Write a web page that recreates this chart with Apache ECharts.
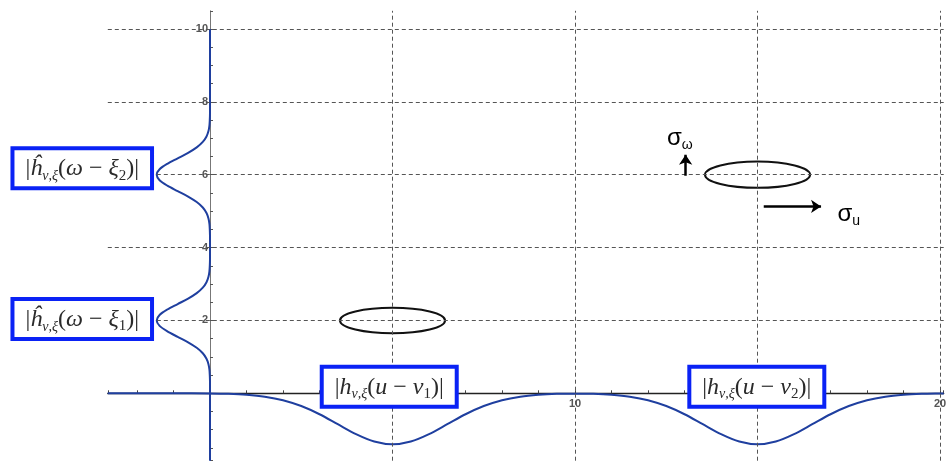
<!DOCTYPE html>
<html><head><meta charset="utf-8">
<script src="https://cdn.jsdelivr.net/npm/echarts@6/dist/echarts.min.js"></script>
<style>html,body{margin:0;padding:0;background:#fff}#c{width:948px;height:461px}</style>
</head><body><div id="c"></div>
<script>
// Horizontal window |h(u - v1)| + |h(u - v2)| (drawn downward)
const hCurveX = [-2.8,-1,0,0.5,1,1.5,2,2.5,3,3.5,4,4.5,5,5.5,6,6.5,7,7.5,8,8.5,9,9.5,10,10.5,11,11.5,12,12.5,13,13.5,14,14.5,15,15.5,16,16.5,17,17.5,18,18.5,19,19.5,20,20.1];
const hCurveY = [0,0,-0.005,-0.015,-0.04,-0.092,-0.189,-0.35,-0.575,-0.849,-1.121,-1.324,-1.4,-1.324,-1.121,-0.849,-0.575,-0.35,-0.189,-0.092,-0.04,-0.015,-0.01,-0.015,-0.04,-0.092,-0.189,-0.35,-0.575,-0.849,-1.121,-1.324,-1.4,-1.324,-1.121,-0.849,-0.575,-0.35,-0.189,-0.092,-0.04,-0.015,-0.005,-0.004];
// Vertical window |ĥ(ω - ξ1)| + |ĥ(ω - ξ2)| (drawn leftward)
const vCurveY = [-1.85,0.2,0.35,0.5,0.65,0.8,0.95,1.1,1.25,1.4,1.55,1.7,1.85,2,2.15,2.3,2.45,2.6,2.75,2.9,3.05,3.2,3.35,3.5,3.65,3.8,4.2,4.35,4.5,4.65,4.8,4.95,5.1,5.25,5.4,5.55,5.7,5.85,6,6.15,6.3,6.45,6.6,6.75,6.9,7.05,7.2,7.35,7.5,7.65,7.8,10];
const vCurveX = [0,0,-0.001,-0.006,-0.016,-0.042,-0.096,-0.198,-0.364,-0.6,-0.886,-1.169,-1.381,-1.46,-1.381,-1.169,-0.886,-0.6,-0.364,-0.198,-0.096,-0.042,-0.016,-0.006,-0.001,0,0,-0.001,-0.006,-0.016,-0.042,-0.096,-0.198,-0.364,-0.6,-0.886,-1.169,-1.381,-1.46,-1.381,-1.169,-0.886,-0.6,-0.364,-0.198,-0.096,-0.042,-0.016,-0.006,-0.001,0,0];

const xGridValues = [5,10,15,20];
const yGridValues = [2,4,6,8,10];
const xLabelValues = [10,20];
const yLabelValues = [2,4,6,8,10];

const ellipseCenters = [[5,2],[15,6]];
const ellipseSemiAxes = [[1.44,0.35],[1.44,0.36]];

const boxTexts = [
  '{n||}{i|ĥ}{s|ν,ξ}{n|(}{i|ω}{n| − }{i|ξ}{d|2}{n|)|}',
  '{n||}{i|ĥ}{s|ν,ξ}{n|(}{i|ω}{n| − }{i|ξ}{d|1}{n|)|}',
  '{n||}{i|h}{s|ν,ξ}{n|(}{i|u}{n| − }{i|ν}{d|1}{n|)|}',
  '{n||}{i|h}{s|ν,ξ}{n|(}{i|u}{n| − }{i|ν}{d|2}{n|)|}'
];
const boxPositions = [[-3.5,6.18],[-3.5,2.04],[4.91,0.18],[14.98,0.18]];

const sigmaTexts = ['{g|σ}{b|ω}','{g|σ}{b|u}'];
const sigmaPositions = [[12.87,6.99],[17.5,4.9]];

const arrowStarts = [[13.03,5.97],[15.17,5.13]];
const arrowEnds = [[13.03,6.55],[16.74,5.13]];

const serif = 'Liberation Serif';
const txt = '#2a2a2a';
const richBox = {
  n: {fontFamily: serif, fontSize: 24, color: txt, lineHeight: 28},
  i: {fontFamily: serif, fontSize: 24, fontStyle: 'italic', color: txt, lineHeight: 28},
  s: {fontFamily: serif, fontSize: 14, fontStyle: 'italic', color: txt, lineHeight: 16, verticalAlign: 'bottom'},
  d: {fontFamily: serif, fontSize: 15, color: txt, lineHeight: 16, verticalAlign: 'bottom'}
};
const richSigma = {
  g: {fontFamily: 'Liberation Sans', fontSize: 24, color: '#000', lineHeight: 26},
  b: {fontFamily: 'Liberation Sans', fontSize: 14, color: '#000', lineHeight: 14, verticalAlign: 'bottom'}
};
const tickLabelStyle = {fontSize: 11, fontWeight: 'bold', color: '#555', fontFamily: 'Liberation Sans'};

const chart = echarts.init(document.getElementById('c'), null, {renderer: 'canvas'});
const option = {
  animation: false,
  backgroundColor: '#fff',
  grid: {left: 107.8, width: 835.9, top: 10.8, height: 449.9, containLabel: false, outerBoundsMode: 'none'},
  xAxis: {
    type: 'value', min: -2.8, max: 20.1, minInterval: 1, maxInterval: 1,
    splitLine: {show: false},
    axisLine: {show: true, onZero: true, lineStyle: {color: '#222', width: 1.3}},
    axisTick: {show: true, inside: true, length: 3, lineStyle: {color: '#444'}},
    axisLabel: {show: false}
  },
  yAxis: {
    type: 'value', min: -1.85, max: 10.5, minInterval: 0.5, maxInterval: 0.5,
    splitLine: {show: false},
    axisLine: {show: true, onZero: true, lineStyle: {color: '#777', width: 1}},
    axisTick: {show: true, inside: true, length: 3, lineStyle: {color: '#555'}},
    axisLabel: {show: false}
  },
  series: [
    {
      type: 'line', data: [], silent: true, z: 1,
      markLine: {
        silent: true, symbol: 'none', label: {show: false},
        lineStyle: {color: '#555', width: 1, type: [4, 3]},
        data: xGridValues.map(v => ({xAxis: v})).concat(yGridValues.map(v => ({yAxis: v})))
      }
    },
    {
      type: 'scatter', z: 2, silent: true, symbolSize: 0, itemStyle: {opacity: 1},
      label: Object.assign({show: true, position: 'bottom', distance: 5, formatter: p => String(p.value[0])}, tickLabelStyle),
      data: xLabelValues.map(v => [v, 0])
    },
    {
      type: 'scatter', z: 2, silent: true, symbolSize: 0, itemStyle: {opacity: 1},
      label: Object.assign({show: true, position: 'left', distance: 2, formatter: p => String(p.value[1])}, tickLabelStyle),
      data: yLabelValues.map(v => [0, v])
    },
    {
      type: 'line', z: 3, showSymbol: false, smooth: 0.3, silent: true, clip: true,
      lineStyle: {color: '#1f3f9f', width: 2},
      data: hCurveX.map((x, i) => [x, hCurveY[i]])
    },
    {
      type: 'line', z: 3, showSymbol: false, smooth: 0.3, silent: true, clip: true,
      lineStyle: {color: '#1f3f9f', width: 2},
      data: vCurveX.map((x, i) => [x, vCurveY[i]])
    },
    {
      type: 'custom', z: 4, clip: false, silent: true,
      renderItem: (params, api) => {
        const c = api.coord([api.value(0), api.value(1)]);
        const s = api.size([api.value(2), api.value(3)]);
        return {type: 'ellipse', shape: {cx: c[0], cy: c[1], rx: s[0], ry: s[1]}, style: {fill: 'transparent', stroke: '#111', lineWidth: 2}};
      },
      data: ellipseCenters.map((c, i) => [c[0], c[1], ellipseSemiAxes[i][0], ellipseSemiAxes[i][1]])
    },
    {
      type: 'lines', coordinateSystem: 'cartesian2d', z: 5, silent: true,
      symbol: ['none', 'arrow'], symbolSize: 10,
      lineStyle: {color: '#000', width: 2.5, opacity: 1, curveness: 0},
      data: arrowStarts.map((s, i) => ({coords: [s, arrowEnds[i]]}))
    },
    {
      type: 'scatter', z: 6, clip: false, silent: true, symbolSize: 0, itemStyle: {opacity: 1},
      label: {show: true, position: 'inside', rich: richSigma, opacity: 1},
      data: sigmaPositions.map((p, i) => ({value: p, label: {formatter: sigmaTexts[i]}}))
    },
    {
      type: 'scatter', z: 7, clip: false, silent: true, symbolSize: 0, itemStyle: {opacity: 1},
      label: {show: true, position: 'inside', opacity: 1, backgroundColor: '#fff', borderColor: '#0a22f5', borderWidth: 4, padding: [5, 11, 3, 11], rich: richBox},
      data: boxPositions.map((p, i) => ({value: p, label: {formatter: boxTexts[i]}}))
    }
  ]
};
chart.setOption(option);
</script>
</body></html>
